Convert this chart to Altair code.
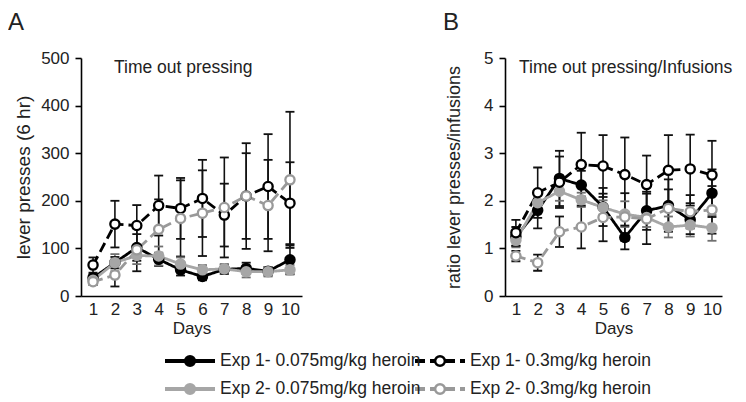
import altair as alt
import pandas as pd

FONT = "Liberation Sans"

days = [1, 2, 3, 4, 5, 6, 7, 8, 9, 10]
series_names = [
    "Exp 1- 0.075mg/kg heroin",
    "Exp 2- 0.075mg/kg heroin",
    "Exp 1- 0.3mg/kg heroin",
    "Exp 2- 0.3mg/kg heroin",
]
series_colors = ["#000000", "#a6a6a6", "#000000", "#999999"]
series_fills = ["#000000", "#a6a6a6", "#ffffff", "#ffffff"]
series_err = ["#111111", "#707070", "#111111", "#111111"]
series_dash = [[1, 0], [1, 0], [10, 5], [10, 5]]
legend_col = [0, 0, 1, 1]
legend_row = [0, 1, 0, 1]

# Panel A: lever presses (6 hr), mean and SEM
a_exp1_low = [38, 70, 102, 77, 55, 41, 56, 58, 52, 76]
a_exp1_low_sem = [8, 12, 28, 14, 12, 8, 10, 12, 9, 30]
a_exp2_low = [33, 70, 85, 84, 67, 55, 57, 51, 51, 55]
a_exp2_low_sem = [6, 18, 18, 20, 14, 10, 10, 12, 10, 10]
a_exp1_high = [65, 151, 148, 190, 184, 205, 170, 210, 230, 195]
a_exp1_high_sem = [16, 49, 43, 63, 64, 81, 66, 111, 110, 86]
a_exp2_high = [30, 44, 97, 140, 163, 174, 186, 210, 190, 244]
a_exp2_high_sem = [7, 24, 45, 63, 80, 90, 105, 90, 96, 143]

# Panel B: ratio lever presses / infusions, mean and SEM
b_exp1_low = [1.25, 1.80, 2.47, 2.33, 1.87, 1.23, 1.79, 1.90, 1.60, 2.16]
b_exp1_low_sem = [0.20, 0.38, 0.58, 0.30, 0.40, 0.25, 0.40, 0.55, 0.30, 0.50]
b_exp2_low = [1.17, 1.96, 2.20, 2.02, 1.86, 1.72, 1.65, 1.45, 1.49, 1.43]
b_exp2_low_sem = [0.15, 0.15, 0.20, 0.15, 0.15, 0.27, 0.20, 0.22, 0.24, 0.27]
b_exp1_high = [1.33, 2.17, 2.39, 2.76, 2.73, 2.55, 2.34, 2.64, 2.67, 2.54]
b_exp1_high_sem = [0.27, 0.53, 0.54, 0.67, 0.65, 0.78, 0.61, 0.74, 0.72, 0.72]
b_exp2_high = [0.84, 0.70, 1.35, 1.45, 1.65, 1.66, 1.62, 1.84, 1.77, 1.81]
b_exp2_high_sem = [0.11, 0.17, 0.32, 0.45, 0.50, 0.50, 0.53, 0.40, 0.35, 0.50]

a_ticks = [0, 100, 200, 300, 400, 500]
b_ticks = [0, 1, 2, 3, 4, 5]
a_title = "Time out pressing"
b_title = "Time out pressing/Infusions"
a_ytitle = "lever presses (6 hr)"
b_ytitle = "ratio lever presses/infusions"
x_title = "Days"


def build(means, sems):
    rows = []
    for name, m_list, s_list in zip(series_names, means, sems):
        for d, m, s in zip(days, m_list, s_list):
            rows.append({"series": name, "day": d, "mean": m, "lo": m - s, "hi": m + s})
    return pd.DataFrame(rows)


df_a = build([a_exp1_low, a_exp2_low, a_exp1_high, a_exp2_high],
             [a_exp1_low_sem, a_exp2_low_sem, a_exp1_high_sem, a_exp2_high_sem])
df_b = build([b_exp1_low, b_exp2_low, b_exp1_high, b_exp2_high],
             [b_exp1_low_sem, b_exp2_low_sem, b_exp1_high_sem, b_exp2_high_sem])

stroke_enc = alt.Stroke("series:N", scale=alt.Scale(domain=series_names, range=series_colors), legend=None)
fill_enc = alt.Fill("series:N", scale=alt.Scale(domain=series_names, range=series_fills), legend=None)
dash_enc = alt.StrokeDash("series:N", scale=alt.Scale(domain=series_names, range=series_dash), legend=None)
err_enc = alt.Color("series:N", scale=alt.Scale(domain=series_names, range=series_err), legend=None)


def panel(df, ticks, ytitle, ytitle_size, ytitle_pad, title, title_x, letter, letter_x, width, xdom):
    xenc = alt.X(
        "day:Q",
        scale=alt.Scale(domain=xdom, nice=False, zero=False),
        axis=alt.Axis(values=days, title=x_title, ticks=False, grid=False,
                      domainColor="#000", domainWidth=1.6,
                      labelFontSize=17, labelFont=FONT, labelColor="#222",
                      labelPadding=5, labelFlush=False, labelOverlap=False,
                      titleFontSize=17, titleFont=FONT, titleFontWeight="normal",
                      titleColor="#222", titlePadding=3),
    )
    ysc = alt.Scale(domain=[ticks[0], ticks[-1]], nice=False, zero=True)
    yaxis = alt.Axis(values=ticks, title=ytitle, grid=False,
                     domainColor="#000", domainWidth=1.6,
                     tickColor="#000", tickWidth=1.6, tickSize=6,
                     labelFontSize=17, labelFont=FONT, labelColor="#222", labelPadding=6,
                     titleFontSize=ytitle_size, titleFont=FONT, titleFontWeight="normal",
                     titleColor="#222", titlePadding=ytitle_pad)
    base = alt.Chart(df)
    err = base.mark_rule(strokeWidth=1.6).encode(
        x=xenc, y=alt.Y("lo:Q", scale=ysc, axis=yaxis), y2="hi:Q", color=err_enc)
    cap_lo = base.mark_tick(orient="horizontal", size=9, thickness=1.8, opacity=1).encode(
        x=xenc, y=alt.Y("lo:Q", scale=ysc, axis=yaxis), color=err_enc)
    cap_hi = base.mark_tick(orient="horizontal", size=9, thickness=1.8, opacity=1).encode(
        x=xenc, y=alt.Y("hi:Q", scale=ysc, axis=yaxis), color=err_enc)
    lines = base.mark_line(strokeWidth=2.8).encode(
        x=xenc, y=alt.Y("mean:Q", scale=ysc, axis=yaxis), stroke=stroke_enc, strokeDash=dash_enc)
    points = base.mark_point(shape="circle", filled=True, opacity=1, size=85, strokeWidth=2.3).encode(
        x=xenc, y=alt.Y("mean:Q", scale=ysc, axis=yaxis), fill=fill_enc, stroke=stroke_enc)
    ttl = alt.Chart(pd.DataFrame({"t": [title]})).mark_text(
        align="left", baseline="middle", fontSize=17.5, font=FONT, color="#222"
    ).encode(x=alt.value(title_x), y=alt.value(10), text="t:N")
    let = alt.Chart(pd.DataFrame({"t": [letter]})).mark_text(
        align="left", baseline="top", fontSize=24, font=FONT, color="#222"
    ).encode(x=alt.value(letter_x), y=alt.value(-47), text="t:N")
    return alt.layer(err, cap_lo, cap_hi, lines, points, ttl, let).properties(width=width, height=238)


pa = panel(df_a, a_ticks, a_ytitle, 19, 7, a_title, 33, "A", -73, 221, [0.45, 10.55])
pb = panel(df_b, b_ticks, b_ytitle, 18, 20, b_title, 14, "B", -62, 217, [0.5, 10.46])

leg_df = pd.DataFrame({"series": series_names, "col": legend_col, "row": legend_row})
lx = alt.X("col:Q", scale=alt.Scale(domain=[0, 1], range=[84, 334]), axis=None)
ly = alt.Y("row:Q", scale=alt.Scale(domain=[0, 1], range=[23, 51]), axis=None)
lbase = alt.Chart(leg_df)
l_rule = lbase.mark_rule(strokeWidth=4, x2Offset=50).encode(
    x=lx, x2="col:Q", y=ly, stroke=stroke_enc, strokeDash=dash_enc)
l_pt = lbase.mark_point(shape="circle", filled=True, opacity=1, size=95, strokeWidth=2.5, xOffset=25).encode(
    x=lx, y=ly, fill=fill_enc, stroke=stroke_enc)
l_txt = lbase.mark_text(align="left", baseline="middle", dx=55, fontSize=17.5, font=FONT, color="#222").encode(
    x=lx, y=ly, text="series:N")
legend = alt.layer(l_rule, l_pt, l_txt).properties(width=600, height=58)

chart = alt.vconcat(
    alt.hconcat(pa, pb, spacing=141),
    legend,
    spacing=2,
).properties(padding={"left": 0, "top": 3, "right": 0, "bottom": 0}).configure_view(stroke=None)

chart.save("out.html", embed_options={"renderer": "svg", "actions": False})
